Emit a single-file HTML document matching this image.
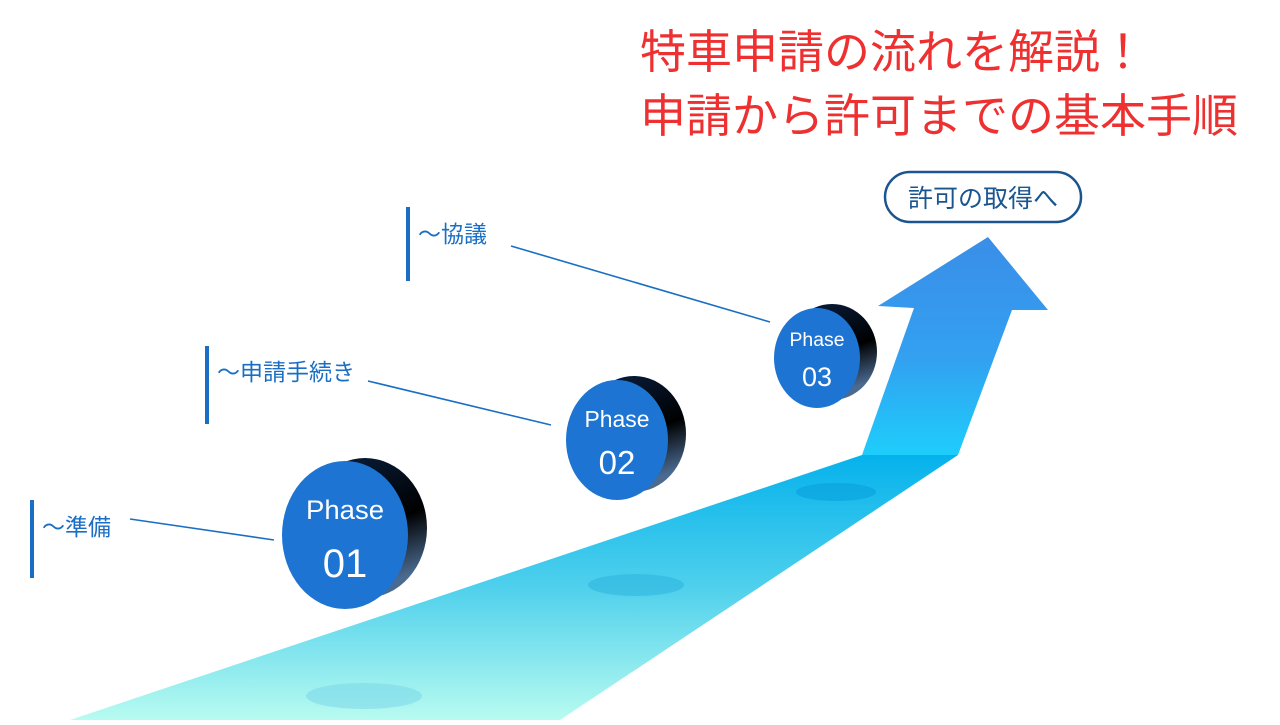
<!DOCTYPE html>
<html><head><meta charset="utf-8"><style>
body{margin:0;width:1280px;height:720px;background:#fff;overflow:hidden;font-family:"Liberation Sans","Noto Sans CJK JP",sans-serif}
</style></head><body>
<svg width="1280" height="720" viewBox="0 0 1280 720" xmlns="http://www.w3.org/2000/svg">
<defs>
<linearGradient id="road" x1="0" y1="1" x2="0" y2="0">
<stop offset="0" stop-color="#b8fbf0"/><stop offset="0.5" stop-color="#4fd0ec"/><stop offset="1" stop-color="#05b2ec"/>
</linearGradient>
<linearGradient id="shaft" x1="0" y1="1" x2="0" y2="0">
<stop offset="0" stop-color="#1ecdfb"/><stop offset="0.45" stop-color="#33a0f0"/><stop offset="1" stop-color="#3a8ee8"/>
</linearGradient>
<linearGradient id="side" x1="0" y1="0" x2="0.3" y2="1">
<stop offset="0" stop-color="#0a2040"/><stop offset="0.6" stop-color="#000"/><stop offset="1" stop-color="#4a6a90"/>
</linearGradient>
</defs>
<polygon points="70,720 560,720 958,455 862,455" fill="url(#road)"/>
<polygon points="862,455 914,308 878,306 988,237 1048,310 1012,310 958,455" fill="url(#shaft)"/>
<ellipse cx="364" cy="696" rx="58" ry="13" fill="#7fd8e8" opacity="0.6"/>
<ellipse cx="636" cy="585" rx="48" ry="11" fill="#2fb6e0" opacity="0.6"/>
<ellipse cx="836" cy="492" rx="40" ry="9" fill="#08a0dc" opacity="0.6"/>
<g fill="#1a6fc4"><rect x="30" y="500" width="4" height="78"/><rect x="205" y="346" width="4" height="78"/><rect x="406" y="207" width="4" height="74"/></g>
<g stroke="#1a6fc4" stroke-width="1.6"><line x1="130" y1="519" x2="274" y2="540"/><line x1="368" y1="381" x2="551" y2="425"/><line x1="511" y1="246" x2="770" y2="322"/></g>
<g font-size="23" fill="#1a6fc4"><text x="42" y="535">～準備</text><text x="217" y="380">～申請手続き</text><text x="418" y="242">～協議</text></g>
<g font-family="'Liberation Sans','DejaVu Sans',sans-serif" fill="#fff" text-anchor="middle">
<ellipse cx="365" cy="528" rx="62" ry="70" fill="url(#side)"/>
<ellipse cx="345" cy="535" rx="63" ry="74" fill="#1d74d3"/>
<text x="345" y="519" font-size="27" textLength="78" lengthAdjust="spacingAndGlyphs">Phase</text><text x="345" y="577" font-size="40">01</text>
<ellipse cx="634" cy="434" rx="52" ry="58" fill="url(#side)"/>
<ellipse cx="617" cy="440" rx="51" ry="60" fill="#1d74d3"/>
<text x="617" y="427" font-size="23" textLength="65" lengthAdjust="spacingAndGlyphs">Phase</text><text x="617" y="474" font-size="33">02</text>
<ellipse cx="832" cy="352" rx="45" ry="48" fill="url(#side)"/>
<ellipse cx="817" cy="358" rx="43" ry="50" fill="#1d74d3"/>
<text x="817" y="346" font-size="19" textLength="55" lengthAdjust="spacingAndGlyphs">Phase</text><text x="817" y="386" font-size="27">03</text>
</g>
<rect x="885" y="172" width="196" height="50" rx="25" fill="#fff" stroke="#1a5590" stroke-width="2.5"/>
<text x="983" y="207" font-size="25" fill="#1a5590" text-anchor="middle">許可の取得へ</text>
<g font-size="46" fill="#ee3030"><text x="640" y="68">特車申請の流れを解説！</text><text x="640" y="132">申請から許可までの基本手順</text></g>
</svg>
</body></html>
